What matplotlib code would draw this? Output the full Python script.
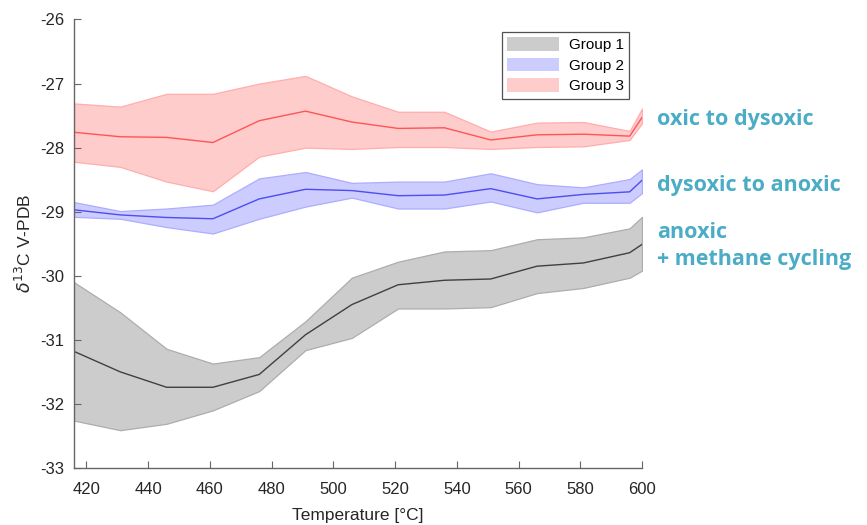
import matplotlib
matplotlib.use("Agg")
import matplotlib.pyplot as plt
from matplotlib.patches import Patch

plt.rcParams['font.family'] = ['Liberation Sans', 'DejaVu Sans']
plt.rcParams['mathtext.fontset'] = 'dejavusans'
plt.rcParams['axes.unicode_minus'] = False

temperature = [416, 431, 446, 461, 476, 491, 506, 521, 536, 551, 566, 581, 596, 600]

g1_mean = [-31.18, -31.50, -31.74, -31.74, -31.54, -30.92, -30.45, -30.14, -30.07, -30.05, -29.85, -29.80, -29.64, -29.51]
g1_upper = [-30.10, -30.57, -31.14, -31.37, -31.27, -30.71, -30.03, -29.78, -29.62, -29.60, -29.43, -29.40, -29.26, -29.08]
g1_lower = [-32.26, -32.41, -32.31, -32.10, -31.80, -31.16, -30.97, -30.51, -30.51, -30.49, -30.27, -30.19, -30.03, -29.92]

g2_mean = [-28.97, -29.05, -29.09, -29.11, -28.80, -28.65, -28.67, -28.75, -28.74, -28.64, -28.80, -28.73, -28.69, -28.51]
g2_upper = [-28.85, -28.99, -28.95, -28.89, -28.48, -28.38, -28.55, -28.53, -28.53, -28.40, -28.57, -28.62, -28.49, -28.34]
g2_lower = [-29.08, -29.11, -29.24, -29.34, -29.11, -28.92, -28.78, -28.95, -28.95, -28.84, -29.01, -28.86, -28.86, -28.71]

g3_mean = [-27.76, -27.83, -27.84, -27.92, -27.58, -27.43, -27.60, -27.70, -27.69, -27.88, -27.80, -27.79, -27.82, -27.53]
g3_upper = [-27.31, -27.36, -27.16, -27.16, -27.00, -26.88, -27.20, -27.44, -27.44, -27.75, -27.61, -27.60, -27.74, -27.39]
g3_lower = [-28.22, -28.30, -28.53, -28.68, -28.14, -28.00, -28.02, -27.99, -27.99, -28.02, -27.99, -27.98, -27.88, -27.62]

group_labels = ["Group 1", "Group 2", "Group 3"]
annotations = ["oxic to dysoxic", "dysoxic to anoxic", "anoxic\n+ methane cycling"]

fig = plt.figure(figsize=(8.67, 5.25), dpi=100)
ax = fig.add_axes([74/867, 1-468/525, (642-74)/867, (468-19.5)/525])

styles = [
    dict(fill=(0.80, 0.80, 0.80), edge=(0.68, 0.68, 0.68), line=(0.25, 0.25, 0.25)),
    dict(fill=(0.80, 0.80, 1.00), edge=(0.68, 0.68, 1.00), line=(0.30, 0.30, 0.95)),
    dict(fill=(1.00, 0.80, 0.80), edge=(1.00, 0.68, 0.68), line=(1.00, 0.33, 0.33)),
]
series = [(g1_mean, g1_upper, g1_lower), (g2_mean, g2_upper, g2_lower), (g3_mean, g3_upper, g3_lower)]

handles = []
for (m, u, l), st, lab in zip(series, styles, group_labels):
    ax.fill_between(temperature, l, u, facecolor=st['fill'], edgecolor=st['edge'], linewidth=0.9)
    ax.plot(temperature, m, color=st['line'], linewidth=1.0)
    handles.append(Patch(facecolor=st['fill'], edgecolor='none', label=lab))

ax.set_xlim(416, 600)
ax.set_ylim(-33, -26)
ax.set_xticks(range(420, 601, 20))
ax.set_yticks(range(-33, -25, 1))
for s in ['top', 'right']:
    ax.spines[s].set_visible(False)
for s in ['left', 'bottom']:
    ax.spines[s].set_color((0.4, 0.4, 0.4))
    ax.spines[s].set_linewidth(1.0)
ax.tick_params(direction='in', length=5, colors=(0.4, 0.4, 0.4), labelcolor=(0.15, 0.15, 0.15), labelsize=12)
ax.tick_params(axis='x', pad=10)
ax.tick_params(axis='y', pad=7)
ax.set_xlabel('Temperature [°C]', fontsize=12.5, color=(0.15, 0.15, 0.15), labelpad=8)
ax.set_ylabel(r'$\mathit{\delta}^{13}$C V-PDB', fontsize=12.5, color=(0.15, 0.15, 0.15), labelpad=4)

leg = ax.legend(handles=handles, loc='upper right', bbox_to_anchor=(0.977, 0.972),
                fontsize=11, frameon=True, fancybox=False, edgecolor=(0.15, 0.15, 0.15),
                handlelength=3.4, handleheight=1.0, handletextpad=0.6, borderpad=0.35,
                labelspacing=0.35, borderaxespad=0)
leg.get_frame().set_linewidth(0.9)

teal = '#4BACC6'
fam = ['Open Sans', 'DejaVu Sans']
ax.text(657/867, 1-119/525, annotations[0], transform=fig.transFigure, color=teal,
        fontsize=15.5, fontweight='bold', family=fam, va='center', ha='left')
ax.text(657/867, 1-186/525, annotations[1], transform=fig.transFigure, color=teal,
        fontsize=15.5, fontweight='bold', family=fam, va='center', ha='left')
ax.text(657/867, 1-246/525, annotations[2], transform=fig.transFigure, color=teal,
        fontsize=15.5, fontweight='bold', family=fam, va='center', ha='left',
        linespacing=1.4)

fig.savefig('out.png', dpi=100)
